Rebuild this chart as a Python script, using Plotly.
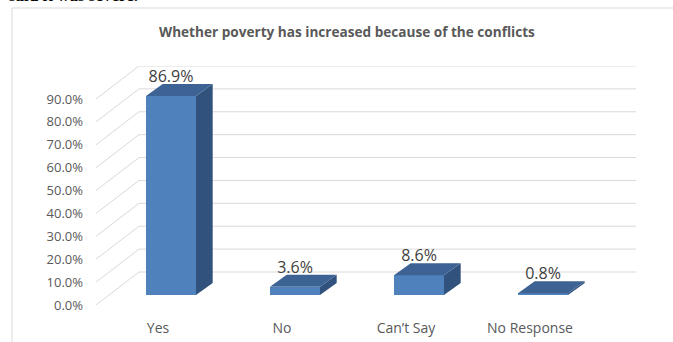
import plotly.graph_objects as go

# --- data -------------------------------------------------------------
categories = ["Yes", "No", "Can\u2019t Say", "No Response"]
values = [86.9, 3.6, 8.6, 0.8]          # percent of respondents
tick_values = [0, 10, 20, 30, 40, 50, 60, 70, 80, 90]
title_text = "Whether poverty has increased because of the conflicts"

# --- geometry of the pseudo-3D frame ---------------------------------
W, H = 673, 342
PL, PR, PT, PB = 96, 37, 66, 37            # plot area margins (px)
PX_PER_CAT = 124.0                          # px per category band
PX_PER_PCT = 2.289                          # px per percentage point
plot_w = W - PL - PR
plot_h = H - PT - PB
x_range = [-0.5, -0.5 + plot_w / PX_PER_CAT]
y_range = [0, plot_h / PX_PER_PCT]

def dx(px):
    return px / PX_PER_CAT

def dy(px):
    return px / PX_PER_PCT

WALL_DX, WALL_DY = dx(43), dy(33)           # depth of the back wall
BAR_SHIFT_X, BAR_SHIFT_Y = dx(13), dy(10)   # bar front plane inside the box
BAR_DX, BAR_DY = dx(16.7), dy(12)           # bar depth
BAR_W = dx(50)

FRONT = "#4F81BD"
TOP = "#3C6393"
SIDE = "#31527D"
GRID = "#D9D9D9"
TEXT = "#595959"

fig = go.Figure()

# front faces of the bars
bar_x = [i + BAR_SHIFT_X for i in range(len(categories))]
fig.add_trace(go.Bar(
    x=bar_x, y=values, base=BAR_SHIFT_Y, width=BAR_W,
    marker=dict(color=FRONT, line=dict(width=0)),
    hoverinfo="skip", showlegend=False,
))

# top and side faces, offset by the bar depth
for xc, v in zip(bar_x, values):
    xl, xr = xc - BAR_W / 2, xc + BAR_W / 2
    y0, y1 = BAR_SHIFT_Y, BAR_SHIFT_Y + v
    fig.add_trace(go.Scatter(
        x=[xr, xr, xr + BAR_DX, xr + BAR_DX, xr],
        y=[y0, y1, y1 + BAR_DY, y0 + BAR_DY, y0],
        fill="toself", fillcolor=SIDE, mode="lines", line=dict(width=0),
        hoverinfo="skip", showlegend=False,
    ))
    fig.add_trace(go.Scatter(
        x=[xl, xr, xr + BAR_DX, xl + BAR_DX, xl],
        y=[y1, y1, y1 + BAR_DY, y1 + BAR_DY, y1],
        fill="toself", fillcolor=TOP, mode="lines", line=dict(width=0),
        hoverinfo="skip", showlegend=False,
    ))

# data labels
fig.add_trace(go.Scatter(
    x=bar_x, y=[BAR_SHIFT_Y + v + dy(18) for v in values],
    mode="text", text=[f"{v:.1f}%" for v in values],
    textposition="middle center",
    textfont=dict(family="Open Sans", size=16, color="#404040"),
    hoverinfo="skip", showlegend=False, cliponaxis=False,
))

# back wall gridlines and the receding lines on the side wall
shapes = []
for t in tick_values:
    shapes.append(dict(type="line", xref="x", yref="y", layer="below",
                       x0=x_range[0] + WALL_DX, x1=x_range[1],
                       y0=t + WALL_DY, y1=t + WALL_DY,
                       line=dict(color=GRID, width=1)))
    shapes.append(dict(type="line", xref="x", yref="y", layer="below",
                       x0=x_range[0], x1=x_range[0] + WALL_DX,
                       y0=t, y1=t + WALL_DY,
                       line=dict(color=GRID, width=1)))

# chart area outline
shapes.append(dict(type="rect", xref="paper", yref="paper", layer="below",
                   x0=(12 - PL) / plot_w, x1=2,
                   y0=-2, y1=(H - PB - 8) / plot_h,
                   line=dict(color=GRID, width=1), fillcolor="rgba(0,0,0,0)"))

fig.update_layout(
    width=W, height=H, autosize=False,
    margin=dict(l=PL, r=PR, t=PT, b=PB, autoexpand=False),
    paper_bgcolor="white", plot_bgcolor="white",
    shapes=shapes,
    bargap=0,
    annotations=[
        dict(text=f"<b>{title_text}</b>", xref="paper", yref="paper",
             x=(347 - PL) / plot_w, y=(H - PB - 31) / plot_h,
             xanchor="center", yanchor="middle", showarrow=False,
             font=dict(family="Open Sans", size=13.6, color=TEXT)),
        dict(text="<b>said it was severe.</b>", xref="paper", yref="paper",
             x=(7 - PL) / plot_w, y=(H - PB - 7) / plot_h,
             xanchor="left", yanchor="bottom", showarrow=False,
             font=dict(family="Liberation Serif", size=17, color="black")),
    ],
    xaxis=dict(range=x_range, tickvals=list(range(len(categories))),
               ticktext=categories, showgrid=False, zeroline=False,
               showline=False, ticks="", ticklabelstandoff=13,
               automargin=False,
               tickfont=dict(family="Open Sans", size=14, color=TEXT),
               fixedrange=True),
    yaxis=dict(range=y_range, tickvals=tick_values,
               ticktext=[f"{t:.1f}%" for t in tick_values],
               showgrid=False, zeroline=False, showline=False, ticks="",
               ticklabelstandoff=12, automargin=False,
               tickfont=dict(family="Open Sans", size=13, color=TEXT),
               fixedrange=True),
)

fig.write_html("out.html")
